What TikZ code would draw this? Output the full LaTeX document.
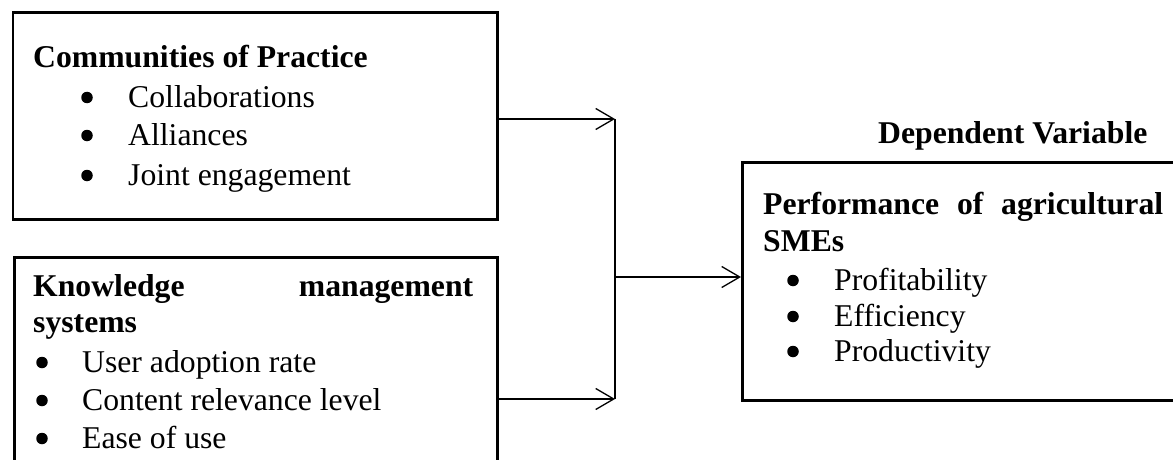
\documentclass[tikz,border=0pt]{standalone}
\usepackage{fontspec}
\setmainfont{Liberation Serif}
\usetikzlibrary{arrows.meta}
\begin{document}
\begin{tikzpicture}[x=1pt,y=-1pt,
  box/.style={draw, line width=2.6pt, anchor=north west, inner sep=0pt},
  txt/.style={anchor=base west, inner sep=0pt, font=\fontsize{31.7}{38}\selectfont},
  hd/.style={txt, font=\fontsize{31.7}{38}\selectfont\bfseries},
  bul/.style={circle, fill=black, inner sep=0pt, minimum size=11.5pt, yshift=9.5pt},
  conn/.style={line width=1.3pt, -{Straight Barb[length=18pt,width=21pt,line width=1.3pt]}},
  line/.style={line width=1.3pt}]
\useasboundingbox (0,0) rectangle (1173,460);
% boxes
\node[box, minimum width=484.5pt, minimum height=206.5pt] (b1) at (11.5,11.5) {};
\node[box, minimum width=483pt, minimum height=230pt] (b2) at (13,256) {};
\node[box, minimum width=460pt, minimum height=238pt] (b3) at (741,161) {};
% box 1 text
\node[hd] (t1) at (33,68) {Communities of Practice};
\node[bul] (t1b1) at (87,107) {};
\node[txt] (t1a) at (128,107) {Collaborations};
\node[bul] (t1b2) at (87,145) {};
\node[txt] (t1c) at (128,145) {Alliances};
\node[bul] (t1b3) at (87,185) {};
\node[txt] (t1d) at (128,185) {Joint engagement};
% box 2 text
\node[hd] (t2) at (33,296) {\makebox[440pt][s]{Knowledge management}};
\node[hd] (t2s) at (33,332) {systems};
\node[bul] (t2b1) at (42,372) {};
\node[txt] (t2a) at (82,372) {User adoption rate};
\node[bul] (t2b2) at (42,410) {};
\node[txt] (t2c) at (82,410) {Content relevance level};
\node[bul] (t2b3) at (42,448) {};
\node[txt] (t2d) at (82,448) {Ease of use};
% box 3 text
\node[hd] (dv) at (878,143) {Dependent Variable};
\node[hd] (t3) at (763,214) {\makebox[400pt][s]{Performance of agricultural}};
\node[hd] (t3s) at (763,251) {SMEs};
\node[bul] (t3b1) at (793,290) {};
\node[txt] (t3a) at (834,290) {Profitability};
\node[bul] (t3b2) at (793,326) {};
\node[txt] (t3c) at (834,326) {Efficiency};
\node[bul] (t3b3) at (793,361) {};
\node[txt] (t3d) at (834,361) {Productivity};
% connectors
\coordinate (j1) at (615,119);
\coordinate (j2) at (615,399);
\coordinate (jm) at (615,277);
\draw[conn] (b1.east |- j1) -- (j1);
\draw[conn] (b2.east |- j2) -- (j2);
\draw[line] (j1) -- (j2);
\draw[conn] (jm) -- (b3.west |- jm);
\end{tikzpicture}
\end{document}
